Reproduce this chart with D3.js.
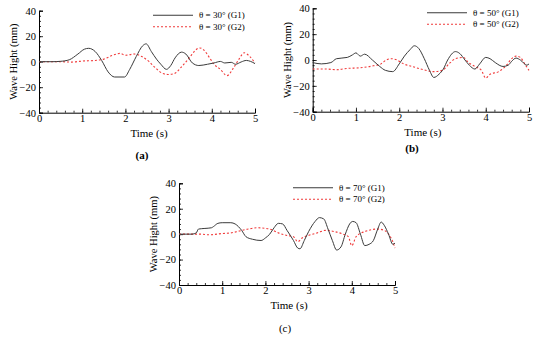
<!DOCTYPE html>
<html>
<head>
<meta charset="utf-8">
<script src="https://cdn.jsdelivr.net/npm/d3@7"></script>
<style>
  body { margin: 0; background: #fff; }
  svg text { font-family: "Liberation Serif", "Times New Roman", Times, serif !important; fill: #000; }
</style>
</head>
<body>
<script>
// time (s), wave height (mm) pairs
const a_g1 = [[0,0],[0.3,0],[0.5,0.3],[0.7,1.5],[0.9,6],[1.05,9.8],[1.15,10.5],[1.3,8],[1.45,1],[1.6,-8],[1.75,-12],[1.98,-12],[2.1,-6],[2.25,4],[2.4,12.5],[2.48,14],[2.6,8],[2.72,2],[2.82,-2],[2.95,-6],[3.05,-3],[3.15,3],[3.3,7.5],[3.4,6],[3.55,-1],[3.7,-3],[3.9,-2],[4.05,-1],[4.2,0.2],[4.3,-1],[4.45,-0.5],[4.55,-2],[4.68,-0.2],[4.8,1],[4.9,0.2],[5.0,-1.5]];
const a_g2 = [[0,0],[0.5,0],[0.75,-0.3],[1.0,0.5],[1.3,1],[1.5,2],[1.7,5],[1.88,6.5],[2.0,5],[2.2,6],[2.38,4],[2.55,0],[2.7,-5],[2.85,-9],[2.98,-10],[3.12,-9.5],[3.3,-4],[3.48,3],[3.62,9],[3.72,10.8],[3.82,9],[3.95,3],[4.05,-2],[4.2,-6],[4.35,-11],[4.5,-5],[4.63,2],[4.75,7],[4.88,4],[5.0,-1]];

const b_g1 = [[0,-2],[0.2,-3],[0.42,-2],[0.55,1],[0.8,2],[0.92,4],[1.0,5.5],[1.1,3],[1.2,4.5],[1.38,0],[1.55,-5],[1.68,-8],[1.85,-9],[2.0,-3],[2.12,3],[2.25,8],[2.35,11],[2.45,9],[2.58,1],[2.7,-8],[2.8,-13.5],[2.92,-11],[3.02,-7],[3.12,0],[3.3,6.5],[3.4,5],[3.52,0],[3.62,-4],[3.75,-7],[3.86,-3],[4.0,2],[4.1,1],[4.22,-2],[4.4,-5],[4.52,-4],[4.6,-1],[4.7,1.5],[4.8,0],[4.95,-4],[5.0,-3]];
const b_g2 = [[0,-7],[0.3,-7],[0.55,-7.5],[0.8,-6.5],[1.1,-6],[1.4,-4.5],[1.58,-3],[1.7,0],[1.82,1],[1.95,0],[2.1,-3],[2.3,-5],[2.5,-7],[2.8,-9],[3.0,-8],[3.15,-3],[3.3,1],[3.48,2],[3.6,-2],[3.75,-5],[3.9,-8],[4.0,-14],[4.1,-11],[4.3,-9],[4.48,-4],[4.6,1],[4.7,3],[4.8,2],[4.9,-3],[5.0,-8]];

const c_g1 = [[0,0],[0.3,0],[0.4,1],[0.45,4],[0.6,4.5],[0.75,5],[0.8,6],[0.9,8.5],[1.0,9],[1.2,9],[1.3,8],[1.45,3],[1.55,-2],[1.7,-4],[1.9,-5],[2.0,-3],[2.1,0],[2.2,5],[2.3,8.5],[2.4,8],[2.5,3],[2.65,-5],[2.75,-11],[2.8,-11.5],[2.9,-5],[3.0,2],[3.15,10],[3.25,13],[3.35,12],[3.45,4],[3.55,-5],[3.65,-12.5],[3.75,-10],[3.85,0],[3.95,8],[4.02,10],[4.1,9],[4.2,0],[4.3,-9],[4.4,-8],[4.5,-5],[4.6,4],[4.68,9.5],[4.75,7],[4.85,0],[4.95,-8],[5.0,-7]];
const c_g2 = [[0,0],[0.5,0],[0.7,-0.5],[1.0,0.5],[1.2,1],[1.4,2.5],[1.6,4],[1.8,5],[2.1,4],[2.3,1],[2.5,-1],[2.65,-2],[2.75,-6],[2.85,-3],[3.0,-1],[3.2,1],[3.4,3],[3.6,2],[3.8,0],[3.92,-2],[4.0,-9],[4.1,-2],[4.3,2],[4.6,4],[4.75,3],[4.85,0],[4.95,-6],[5.0,-11]];

const xTicks = [0, 1, 2, 3, 4, 5];
const yTicks = [-40, -20, 0, 20, 40];

const panels = [
  {label: "(a)", bold: true, angle: 30, g1: a_g1, g2: a_g2,
   x0: 39, x1: 255, yTop: 10.7, yBot: 112.7, labX: 142, labY: 159},
  {label: "(b)", bold: true, angle: 50, g1: b_g1, g2: b_g2,
   x0: 312.7, x1: 529, yTop: 8.3, yBot: 111.7, labX: 412, labY: 152},
  {label: "(c)", bold: false, angle: 70, g1: c_g1, g2: c_g2,
   x0: 179, x1: 395, yTop: 183.3, yBot: 285, labX: 285, labY: 332}
];

const svg = d3.select("body").append("svg")
  .attr("width", 550)
  .attr("height", 340);

panels.forEach(p => drawPanel(p));

function drawPanel(p) {
  const x = d3.scaleLinear().domain([0, 5]).range([p.x0, p.x1]);
  const y = d3.scaleLinear().domain([-40, 40]).range([p.yBot, p.yTop]);
  const g = svg.append("g");

  // minor ticks
  const xMinor = d3.range(0, 5.001, 0.2);
  const yMinor = d3.range(-40, 40.001, 4);
  g.append("g").attr("transform", `translate(0,${p.yBot})`)
    .call(d3.axisBottom(x).tickValues(xMinor).tickSize(-2).tickFormat(""))
    .call(a => a.select(".domain").remove());
  g.append("g").attr("transform", `translate(${p.x0},0)`)
    .call(d3.axisLeft(y).tickValues(yMinor).tickSize(-2).tickFormat(""))
    .call(a => a.select(".domain").remove());

  // major ticks + labels
  const xa = g.append("g").attr("transform", `translate(0,${p.yBot})`)
    .call(d3.axisBottom(x).tickValues(xTicks).tickSize(-4).tickPadding(2).tickFormat(d3.format("d")));
  const ya = g.append("g").attr("transform", `translate(${p.x0},0)`)
    .call(d3.axisLeft(y).tickValues(yTicks).tickSize(-4).tickPadding(3).tickFormat(d3.format("d")));
  [xa, ya].forEach(a => {
    a.attr("font-family", null);
    a.selectAll("text").style("font-size", "10.5px");
    a.select(".domain").attr("stroke", "#000");
  });
  g.selectAll(".tick line").attr("stroke", "#000").attr("stroke-width", 0.8);

  // titles
  g.append("text")
    .attr("x", (p.x0 + p.x1) / 2 + 2)
    .attr("y", p.yBot + 24)
    .attr("text-anchor", "middle")
    .style("font-size", "11px")
    .text("Time (s)");
  g.append("text")
    .attr("transform", `translate(${p.x0 - 22},${(p.yTop + p.yBot) / 2}) rotate(-90)`)
    .attr("text-anchor", "middle")
    .style("font-size", "10.5px")
    .text("Wave Hight (mm)");

  // lines
  const line = d3.line()
    .x(d => x(d[0]))
    .y(d => y(d[1]))
    .curve(d3.curveMonotoneX);

  g.append("path").datum(p.g2)
    .attr("d", line)
    .attr("fill", "none")
    .attr("stroke", "#f03a3a")
    .attr("stroke-width", 1.1)
    .attr("stroke-dasharray", "2,2");
  g.append("path").datum(p.g1)
    .attr("d", line)
    .attr("fill", "none")
    .attr("stroke", "#3a3a3a")
    .attr("stroke-width", 1);

  // legend
  const lx = p.x1 - 102;
  const ly = p.yTop + 4.5;
  const legend = [
    {name: `θ = ${p.angle}° (G1)`, color: "#3a3a3a", dash: null},
    {name: `θ = ${p.angle}° (G2)`, color: "#f03a3a", dash: "2,2"}
  ];
  legend.forEach((d, i) => {
    g.append("line")
      .attr("x1", lx).attr("x2", lx + 40)
      .attr("y1", ly + i * 11.5).attr("y2", ly + i * 11.5)
      .attr("stroke", d.color)
      .attr("stroke-width", 1.1)
      .attr("stroke-dasharray", d.dash);
    g.append("text")
      .attr("x", lx + 46)
      .attr("y", ly + i * 11.5 + 3)
      .style("font-size", "9px")
      .text(d.name);
  });

  // panel label
  g.append("text")
    .attr("x", p.labX)
    .attr("y", p.labY)
    .attr("text-anchor", "middle")
    .style("font-size", "11px")
    .style("font-weight", p.bold ? "bold" : "normal")
    .text(p.label);
}
</script>
</body>
</html>
